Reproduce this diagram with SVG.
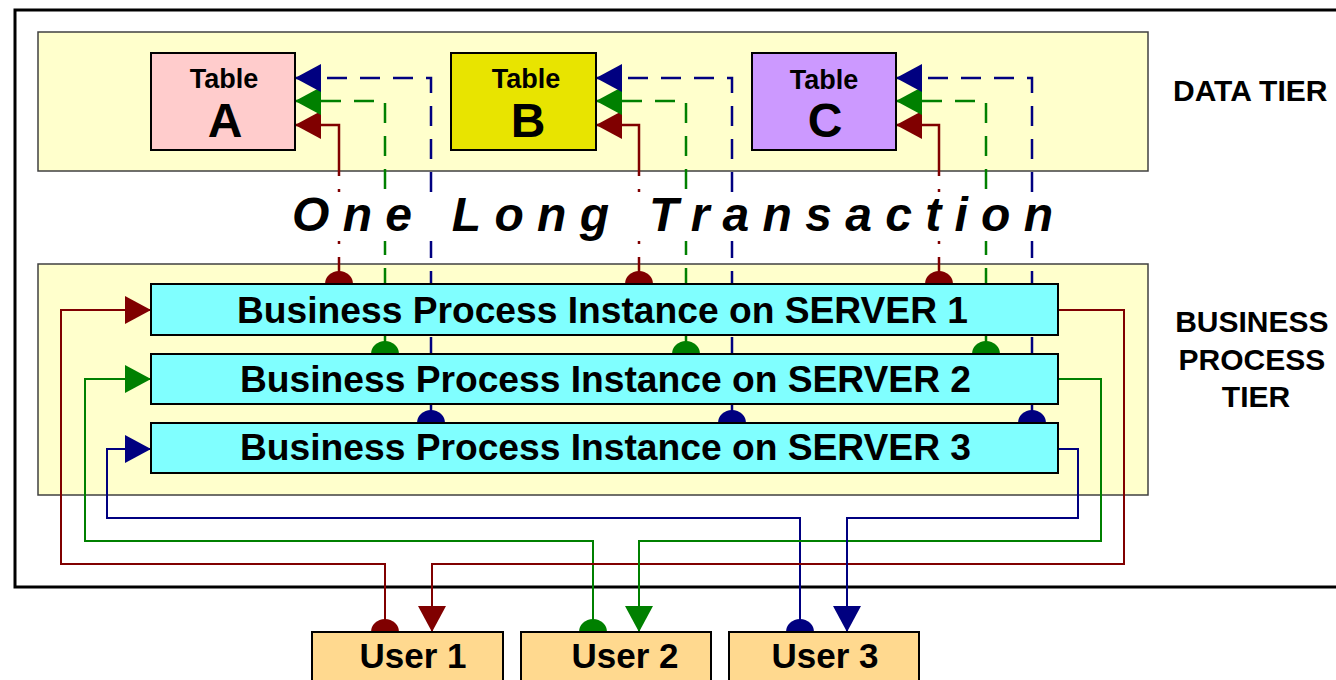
<svg xmlns="http://www.w3.org/2000/svg" width="1336" height="680" viewBox="0 0 1336 680">
  <style>
    .frame { fill: none; stroke: #000; stroke-width: 3; }
    .tier { fill: #FFFFCC; stroke: #404040; stroke-width: 1.5; }
    .table { stroke: #000; stroke-width: 2; }
    .server { fill: #80FFFF; stroke: #000; stroke-width: 2; }
    .user { fill: #FFD98F; stroke: #000; stroke-width: 2; }
    text { font-family: "Liberation Sans", Arial, sans-serif; font-weight: bold; fill: #000; }
    .link { fill: none; stroke-width: 2; }
    .red { stroke: #800000; }
    .green { stroke: #008000; }
    .blue { stroke: #000080; }
    .dash { stroke-width: 2.5; stroke-dasharray: 20 13; }
    .dashdot { stroke-width: 2.5; stroke-dasharray: 27 13 3 49 3 13 100; }
    .tier-label { font-size: 30px; }
    .tname { font-size: 27px; text-anchor: middle; }
    .tletter { font-size: 48px; text-anchor: middle; }
    .slabel { font-size: 36px; }
    .ulabel { font-size: 35px; text-anchor: middle; }
  </style>
  <defs>
    <marker id="arrow-red" viewBox="0 -14 26 28" refX="26" refY="0" markerWidth="26" markerHeight="28" markerUnits="userSpaceOnUse" orient="auto">
      <path d="M0,-14 L26,0 L0,14 Z" fill="#800000"/>
    </marker>
    <marker id="arrow-green" viewBox="0 -14 26 28" refX="26" refY="0" markerWidth="26" markerHeight="28" markerUnits="userSpaceOnUse" orient="auto">
      <path d="M0,-14 L26,0 L0,14 Z" fill="#008000"/>
    </marker>
    <marker id="arrow-blue" viewBox="0 -14 26 28" refX="26" refY="0" markerWidth="26" markerHeight="28" markerUnits="userSpaceOnUse" orient="auto">
      <path d="M0,-14 L26,0 L0,14 Z" fill="#000080"/>
    </marker>
    <marker id="ball-red" viewBox="0 -14 13 28" refX="0" refY="0" markerWidth="13" markerHeight="28" markerUnits="userSpaceOnUse" orient="auto">
      <path d="M0,-14 A13 14 0 0 1 0,14 Z" fill="#800000"/>
    </marker>
    <marker id="ball-green" viewBox="0 -14 13 28" refX="0" refY="0" markerWidth="13" markerHeight="28" markerUnits="userSpaceOnUse" orient="auto">
      <path d="M0,-14 A13 14 0 0 1 0,14 Z" fill="#008000"/>
    </marker>
    <marker id="ball-blue" viewBox="0 -14 13 28" refX="0" refY="0" markerWidth="13" markerHeight="28" markerUnits="userSpaceOnUse" orient="auto">
      <path d="M0,-14 A13 14 0 0 1 0,14 Z" fill="#000080"/>
    </marker>
  </defs>

  <rect width="1336" height="680" fill="#FFFFFF"/>

  <!-- system boundary and the two tiers -->
  <g id="system">
    <rect class="frame" x="15" y="10" width="1340" height="577"/>
  </g>
  <g id="data-tier">
    <rect class="tier" x="38" y="32" width="1110" height="139"/>
    <text class="tier-label" x="1173" y="101">DATA TIER</text>
  </g>
  <g id="business-process-tier">
    <rect class="tier" x="38" y="264" width="1110" height="231"/>
    <text class="tier-label" text-anchor="middle">
      <tspan x="1256" y="332">BUSINESS</tspan>
      <tspan x="1256" y="370">PROCESS</tspan>
      <tspan x="1256" y="407">TIER</tspan>
    </text>
  </g>

  <!-- connectors: servers to tables, users to servers -->
  <g id="connectors">
    <!-- server 1 (red) to tables -->
    <path class="link red dashdot" d="M339,284 V125 H295" marker-start="url(#ball-red)" marker-end="url(#arrow-red)"/>
    <path class="link red dashdot" d="M639,284 V125 H596" marker-start="url(#ball-red)" marker-end="url(#arrow-red)"/>
    <path class="link red dashdot" d="M939,284 V125 H896" marker-start="url(#ball-red)" marker-end="url(#arrow-red)"/>
    <!-- server 2 (green) to tables -->
    <path class="link green dash" d="M385,354 V101 H295" marker-start="url(#ball-green)" marker-end="url(#arrow-green)"/>
    <path class="link green dash" d="M686,354 V101 H596" marker-start="url(#ball-green)" marker-end="url(#arrow-green)"/>
    <path class="link green dash" d="M986,354 V101 H896" marker-start="url(#ball-green)" marker-end="url(#arrow-green)"/>
    <!-- server 3 (blue) to tables -->
    <path class="link blue dash" d="M431,423 V78 H295" marker-start="url(#ball-blue)" marker-end="url(#arrow-blue)"/>
    <path class="link blue dash" d="M732,423 V78 H596" marker-start="url(#ball-blue)" marker-end="url(#arrow-blue)"/>
    <path class="link blue dash" d="M1032,423 V78 H896" marker-start="url(#ball-blue)" marker-end="url(#arrow-blue)"/>

    <!-- user requests into servers -->
    <path class="link red" d="M385,632 V564 H61 V310 H151" marker-start="url(#ball-red)" marker-end="url(#arrow-red)"/>
    <path class="link green" d="M593,632 V541 H85 V379 H151" marker-start="url(#ball-green)" marker-end="url(#arrow-green)"/>
    <path class="link blue" d="M800,632 V518 H107 V449 H151" marker-start="url(#ball-blue)" marker-end="url(#arrow-blue)"/>
    <!-- server replies back to users -->
    <path class="link red" d="M1058,310 H1124 V564 H432 V632" marker-end="url(#arrow-red)"/>
    <path class="link green" d="M1058,379 H1101 V541 H639 V632" marker-end="url(#arrow-green)"/>
    <path class="link blue" d="M1058,449 H1078 V518 H847 V632" marker-end="url(#arrow-blue)"/>
  </g>

  <!-- title band across the connectors -->
  <g id="transaction-label">
    <rect x="280" y="193" width="782" height="48" fill="#FFFFFF"/>
    <text x="292" y="231" font-size="48" font-style="italic" textLength="761" lengthAdjust="spacing">One Long Transaction</text>
  </g>

  <!-- tables -->
  <g id="table-a">
    <rect class="table" x="151" y="53" width="144" height="97" fill="#FFCCCC"/>
    <text class="tname" x="224" y="88">Table</text>
    <text class="tletter" x="225" y="137">A</text>
  </g>
  <g id="table-b">
    <rect class="table" x="451" y="53" width="145" height="97" fill="#E8E400"/>
    <text class="tname" x="526" y="88">Table</text>
    <text class="tletter" x="528" y="137">B</text>
  </g>
  <g id="table-c">
    <rect class="table" x="752" y="53" width="144" height="97" fill="#CC99FF"/>
    <text class="tname" x="824" y="89">Table</text>
    <text class="tletter" x="825" y="137">C</text>
  </g>

  <!-- business process instances -->
  <g id="server-1">
    <rect class="server" x="151" y="284" width="907" height="51"/>
    <text class="slabel" x="237" y="323" textLength="731" lengthAdjust="spacingAndGlyphs">Business Process Instance on SERVER 1</text>
  </g>
  <g id="server-2">
    <rect class="server" x="151" y="354" width="907" height="50"/>
    <text class="slabel" x="240" y="392" textLength="731" lengthAdjust="spacingAndGlyphs">Business Process Instance on SERVER 2</text>
  </g>
  <g id="server-3">
    <rect class="server" x="151" y="423" width="907" height="50"/>
    <text class="slabel" x="240" y="460" textLength="731" lengthAdjust="spacingAndGlyphs">Business Process Instance on SERVER 3</text>
  </g>

  <!-- users -->
  <g id="user-1">
    <rect class="user" x="312" y="632" width="191" height="60"/>
    <text class="ulabel" x="413" y="668">User 1</text>
  </g>
  <g id="user-2">
    <rect class="user" x="521" y="632" width="190" height="60"/>
    <text class="ulabel" x="625" y="668">User 2</text>
  </g>
  <g id="user-3">
    <rect class="user" x="729" y="632" width="190" height="60"/>
    <text class="ulabel" x="825" y="668">User 3</text>
  </g>
</svg>
